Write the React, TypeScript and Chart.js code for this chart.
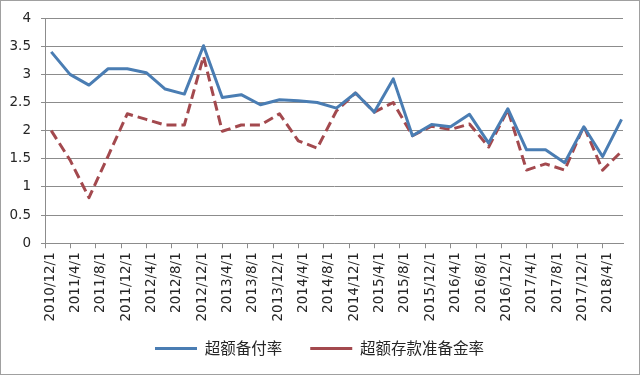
import React, { useEffect, useRef } from "react";
import { Chart, registerables } from "chart.js";

Chart.register(...registerables);

// quarterly observation dates
const dates = [
  "2010-12-31",
  "2011-03-31", "2011-06-30", "2011-09-30", "2011-12-31",
  "2012-03-31", "2012-06-30", "2012-09-30", "2012-12-31",
  "2013-03-31", "2013-06-30", "2013-09-30", "2013-12-31",
  "2014-03-31", "2014-06-30", "2014-09-30", "2014-12-31",
  "2015-03-31", "2015-06-30", "2015-09-30", "2015-12-31",
  "2016-03-31", "2016-06-30", "2016-09-30", "2016-12-31",
  "2017-03-31", "2017-06-30", "2017-09-30", "2017-12-31",
  "2018-03-31", "2018-06-30",
];

// 超额备付率
const excessPaymentRatio = [
  3.4,
  3.0, 2.81, 3.1, 3.1,
  3.03, 2.74, 2.65, 3.51,
  2.59, 2.64, 2.46, 2.55,
  2.53, 2.5, 2.4, 2.67,
  2.33, 2.92, 1.91, 2.11,
  2.07, 2.29, 1.78, 2.39,
  1.66, 1.66, 1.43, 2.07,
  1.54, 2.2,
];

// 超额存款准备金率
const excessReserveRatio = [
  2.0,
  1.48, 0.81, 1.55, 2.3,
  2.2, 2.1, 2.1, 3.32,
  1.99, 2.1, 2.1, 2.3,
  1.82, 1.69, 2.35, 2.67,
  2.33, 2.5, 1.91, 2.08,
  2.02, 2.12, 1.71, 2.37,
  1.3, 1.41, 1.3, 2.08,
  1.3, 1.63,
];

const tickLabels = [
  "2010/12/1", "2011/4/1", "2011/8/1", "2011/12/1", "2012/4/1", "2012/8/1",
  "2012/12/1", "2013/4/1", "2013/8/1", "2013/12/1", "2014/4/1", "2014/8/1",
  "2014/12/1", "2015/4/1", "2015/8/1", "2015/12/1", "2016/4/1", "2016/8/1",
  "2016/12/1", "2017/4/1", "2017/8/1", "2017/12/1", "2018/4/1",
];

const seriesNames = ["超额备付率", "超额存款准备金率"];
const axisStart = "2010/12/1";
const axisEnd = "2018/7/7";

const DAY = 86400000;
function toUTC(s: string): number {
  const parts = s.split(/[-\/]/).map(Number);
  return Date.UTC(parts[0], parts[1] - 1, parts[2]);
}
const startMs = toUTC(axisStart);
const dayOf = (s: string) => (toUTC(s) - startMs) / DAY;

export default function App() {
  const ref = useRef<HTMLCanvasElement | null>(null);

  useEffect(() => {
    if (!ref.current) return;
    const grid = "#8c8c8c";
    const textColor = "#262626";

    const framePlugin = {
      id: "frame",
      afterLayout(chart: any) {
        const lg = chart.legend;
        if (lg) {
          lg.top -= 10;
          lg.bottom -= 10;
          lg.left += 8;
          lg.right += 8;
        }
      },
      beforeDraw(chart: any) {
        const ctx = chart.ctx;
        ctx.save();
        ctx.fillStyle = "#ffffff";
        ctx.fillRect(0, 0, chart.width, chart.height);
        ctx.restore();
      },
      afterDraw(chart: any) {
        const ctx = chart.ctx;
        ctx.save();
        ctx.strokeStyle = "#a0a0a0";
        ctx.lineWidth = 1;
        ctx.strokeRect(0.5, 0.5, chart.width - 1, chart.height - 1);
        ctx.restore();
      },
    };

    const chart = new Chart(ref.current, {
      type: "line",
      data: {
        datasets: [
          {
            label: seriesNames[0],
            data: dates.map((d, i) => ({ x: dayOf(d), y: excessPaymentRatio[i] })),
            borderColor: "#4a7db3",
            backgroundColor: "#4a7db3",
            borderWidth: 3,
            pointRadius: 0,
            tension: 0,
            borderJoinStyle: "round",
          },
          {
            label: seriesNames[1],
            data: dates.map((d, i) => ({ x: dayOf(d), y: excessReserveRatio[i] })),
            borderColor: "#a3494e",
            backgroundColor: "#a3494e",
            borderWidth: 3,
            borderDash: [10, 5],
            pointRadius: 0,
            tension: 0,
            borderJoinStyle: "round",
          },
        ],
      },
      options: {
        responsive: false,
        animation: false,
        devicePixelRatio: 1,
        layout: { padding: { top: 18, right: 17, left: 0, bottom: -1.25 } },
        plugins: {
          tooltip: { enabled: false },
          legend: {
            position: "bottom",
            labels: {
              usePointStyle: true,
              pointStyle: "line",
              pointStyleWidth: 42,
              padding: 28,
              color: textColor,
              font: { family: "'Noto Sans CJK SC', 'Noto Sans', sans-serif", size: 15.5 },
            },
          },
        },
        scales: {
          x: {
            type: "linear",
            min: 0,
            max: dayOf(axisEnd),
            afterBuildTicks(scale: any) {
              scale.ticks = tickLabels.map((l) => ({ value: dayOf(l) }));
            },
            afterFit(scale: any) {
              scale.height = 79.5;
            },
            ticks: {
              autoSkip: false,
              maxRotation: 90,
              minRotation: 90,
              padding: 4,
              labelOffset: 5,
              color: textColor,
              font: { family: "'DejaVu Sans', sans-serif", size: 13.5 },
              callback: (_v: any, i: number) => tickLabels[i],
            },
            grid: {
              drawOnChartArea: false,
              drawTicks: true,
              tickLength: 5,
              color: grid,
            },
            border: { display: true, color: grid, width: 1 },
          },
          y: {
            min: 0,
            max: 4,
            afterFit(scale: any) {
              scale.width = 45;
            },
            ticks: {
              stepSize: 0.5,
              padding: 10,
              color: textColor,
              font: { family: "'DejaVu Sans', sans-serif", size: 13.5 },
              callback: (v: any) => String(Number(v)),
            },
            grid: { color: grid, tickLength: 4, drawTicks: true },
            border: { display: true, color: grid, width: 1 },
          },
        },
      },
      plugins: [framePlugin],
    } as any);

    return () => chart.destroy();
  }, []);

  return (
    <div style={{ position: "absolute", left: 0, top: 0, width: 640, height: 375 }}>
      <canvas ref={ref} width={640} height={375} />
    </div>
  );
}
